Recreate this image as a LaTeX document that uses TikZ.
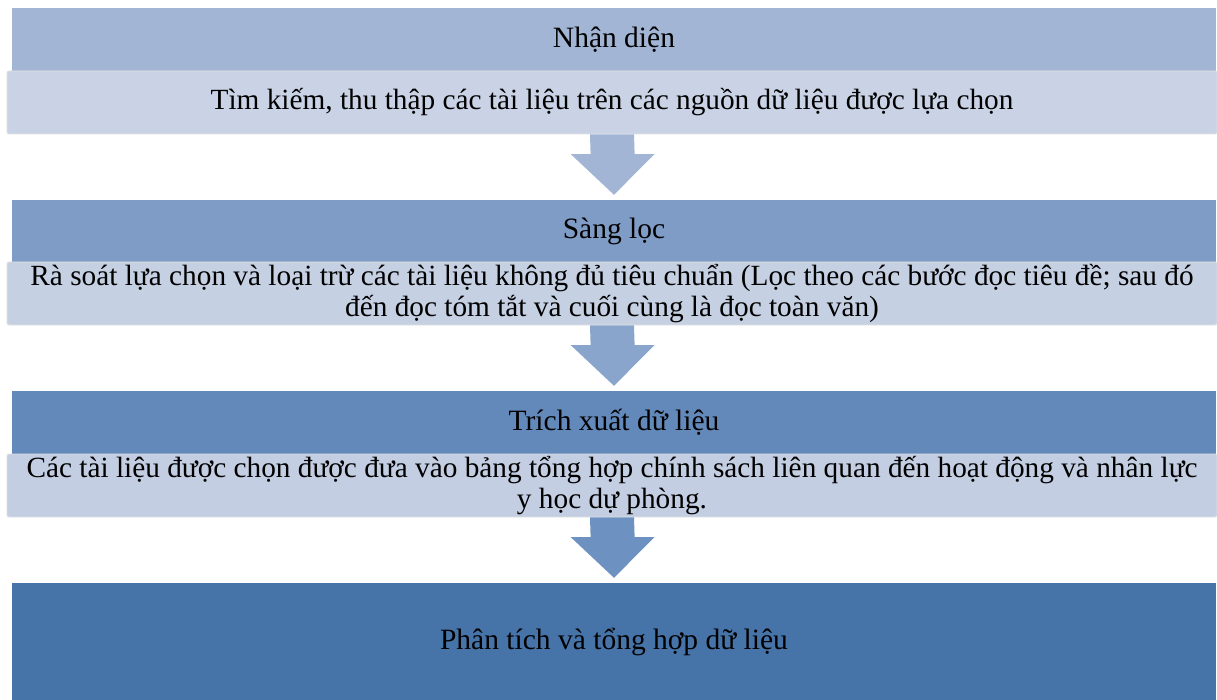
\documentclass[tikz,border=0pt]{standalone}
\usepackage{fontspec}
\setmainfont{Liberation Serif}
\usetikzlibrary{calc}
\definecolor{hA}{HTML}{A2B5D5}
\definecolor{hB}{HTML}{7F9CC6}
\definecolor{hC}{HTML}{6389BA}
\definecolor{hD}{HTML}{4673A8}
\definecolor{dA}{HTML}{CAD3E6}
\definecolor{dB}{HTML}{C6D0E3}
\definecolor{dC}{HTML}{C3CEE2}
\definecolor{aA}{HTML}{A2B5D5}
\definecolor{aB}{HTML}{8AA5CC}
\definecolor{aC}{HTML}{6D91C0}
\newcommand{\hdtext}[1]{\raisebox{-2.5pt}{#1}}
\begin{document}
\begin{tikzpicture}[x=1pt,y=-1pt,
  header/.style={fill=#1, draw=none, minimum width=1204pt, inner sep=0pt, font=\fontsize{29.5}{31}\selectfont, text=black},
  desc/.style={fill=#1, draw=black!12, line width=0.8pt, rounded corners=2pt, minimum width=1210pt, minimum height=63pt, inner sep=0pt, align=center, font=\fontsize{29.3}{31}\selectfont, text=black},
  blockarrow/.style={fill=#1, draw=none}]
\useasboundingbox (0,0) rectangle (1217,700);
\node[header=hA, minimum height=63pt] (h1) at (614,39.5) {\hdtext{Nhận diện}};
\node[desc=dA] (d1) at (612,102.5) {Tìm kiếm, thu thập các tài liệu trên các nguồn dữ liệu được lựa chọn};
\node[header=hB, minimum height=62pt] (h2) at (614,231) {\hdtext{Sàng lọc}};
\node[desc=dB] (d2) at (612,293.5) {Rà soát lựa chọn và loại trừ các tài liệu không đủ tiêu chuẩn (Lọc theo các bước đọc tiêu đề; sau đó\\ đến đọc tóm tắt và cuối cùng là đọc toàn văn)};
\node[header=hC, minimum height=63pt] (h3) at (614,422.5) {\hdtext{Trích xuất dữ liệu}};
\node[desc=dC] (d3) at (612,485.5) {Các tài liệu được chọn được đưa vào bảng tổng hợp chính sách liên quan đến hoạt động và nhân lực\\ y học dự phòng.};
\node[header=hD, minimum height=117pt] (h4) at (614,641.5) {\hdtext{Phân tích và tổng hợp dữ liệu}};
% block arrows
\foreach \src/\dst/\col in {d1/h2/aA, d2/h3/aB, d3/h4/aC}{
  \fill[blockarrow=\col]
    ($(\src.south)+(-22,0)$) -- ($(\src.south)+(22,0)$) -- ($(\src.south)!0.3!(\dst.north)+(22,0)$)
    -- ($(\src.south)!0.3!(\dst.north)+(42,0)$) -- ($(\dst.north)+(0,-5)$)
    -- ($(\src.south)!0.3!(\dst.north)+(-42,0)$) -- ($(\src.south)!0.3!(\dst.north)+(-22,0)$) -- cycle;
}
\end{tikzpicture}
\end{document}
